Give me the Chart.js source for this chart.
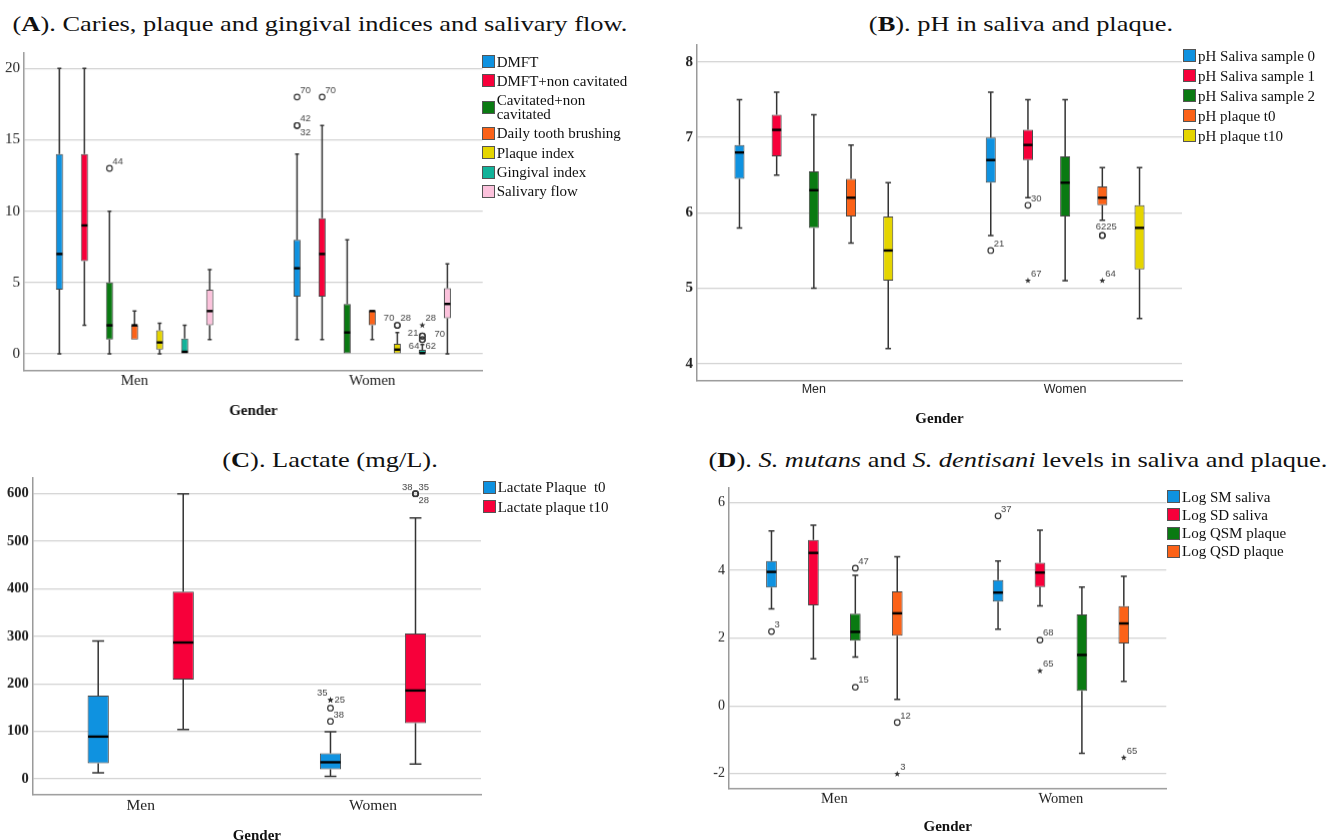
<!DOCTYPE html>
<html>
<head>
<meta charset="utf-8">
<script src="https://cdn.jsdelivr.net/npm/chart.js@4.4.1/dist/chart.umd.min.js"></script>
<style>
  body { margin: 0; width: 1341px; height: 840px; position: relative; overflow: hidden; background: #fff; font-family: "Liberation Serif", serif; color: #111; }
  .ttl { position: absolute; font-size: 22px; line-height: 22px; white-space: nowrap; transform: translateX(-50%) scaleX(1.2); }
  .panel { position: absolute; }
  .lgd { position: absolute; font-size: 15px; line-height: 14px; color: #111; }
  .lgd div { display: flex; align-items: center; }
  .lgd i { flex: none; width: 13px; height: 13px; border: 1px solid #555; box-sizing: border-box; margin-right: 2px; }
  .lgd span { white-space: pre-wrap; }
</style>
</head>
<body>
<div class="ttl" style="left:320px;top:13.3px">(<b>A</b>). Caries, plaque and gingival indices and salivary flow.</div>
<div class="ttl" style="left:1021px;top:13.3px">(<b>B</b>). pH in saliva and plaque.</div>
<div class="ttl" style="left:330px;top:448.6px">(<b>C</b>). Lactate (mg/L).</div>
<div class="ttl" style="left:1018px;top:448.6px">(<b>D</b>). <i>S. mutans</i> and <i>S. dentisani</i> levels in saliva and plaque.</div>
<script>
const genders = ['Men', 'Women'];

// every box: [lower whisker, Q1, median, Q3, upper whisker], one row for Men, one for Women
// outliers: [series, gender, value, case label, 'o' outlier / '*' extreme]

// (A) caries, plaque, gingival indices, salivary flow
const seriesA = ['DMFT', 'DMFT+non cavitated', 'Cavitated+non cavitated', 'Daily tooth brushing', 'Plaque index', 'Gingival index', 'Salivary flow'];
const aDMFT     = [[0, 4.5, 7, 14, 20], [1, 4, 6, 8, 14]];
const aDMFTnc   = [[2, 6.5, 9, 14, 20], [1, 4, 7, 9.5, 16]];
const aCavNc    = [[0, 1, 2, 5, 10], [0, 0, 1.5, 3.5, 8]];
const aBrushing = [[1, 1, 2, 2, 3], [1, 2, 3, 3, 3]];
const aPlaque   = [[0, 0.3, 0.8, 1.65, 2.15], [0, 0, 0.3, 0.7, 1.5]];
const aGingival = [[0, 0, 0.15, 1.07, 2], [0, 0, 0.05, 0.28, 0.65]];
const aFlow     = [[1, 2, 3, 4.5, 5.9], [0, 2.5, 3.5, 4.6, 6.3]];
const aOutliers = [
  [2, 0, 13, '44', 'o'],
  [0, 1, 18, '70', 'o'], [0, 1, 16, '42', 'o'], [0, 1, 16, '32', 'o'],
  [1, 1, 18, '70', 'o'],
  [4, 1, 2, '70', 'o'], [4, 1, 2, '28', 'o'],
  [5, 1, 2, '28', '*'], [5, 1, 1.25, '21', 'o'], [5, 1, 1.25, '70', 'o'], [5, 1, 1.0, '64', 'o'], [5, 1, 1.0, '62', 'o']
];

// (B) pH
const seriesB = ['pH Saliva sample 0', 'pH Saliva sample 1', 'pH Saliva sample 2', 'pH plaque t0', 'pH plaque t10'];
const bSaliva0  = [[5.8, 6.45, 6.8, 6.9, 7.5], [5.7, 6.4, 6.7, 7.0, 7.6]];
const bSaliva1  = [[6.5, 6.75, 7.1, 7.3, 7.6], [6.2, 6.7, 6.9, 7.1, 7.5]];
const bSaliva2  = [[5.0, 5.8, 6.3, 6.55, 7.3], [5.1, 5.95, 6.4, 6.75, 7.5]];
const bPlaque0  = [[5.6, 5.95, 6.2, 6.45, 6.9], [5.9, 6.1, 6.2, 6.35, 6.6]];
const bPlaque10 = [[4.2, 5.1, 5.5, 5.95, 6.4], [4.6, 5.25, 5.8, 6.1, 6.6]];
const bOutliers = [
  [0, 1, 5.5, '21', 'o'],
  [1, 1, 6.1, '30', 'o'], [1, 1, 5.1, '67', '*'],
  [3, 1, 5.7, '62', 'o'], [3, 1, 5.7, '25', 'o'], [3, 1, 5.1, '64', '*']
];

// (C) lactate
const seriesC = ['Lactate Plaque  t0', 'Lactate plaque t10'];
const cPlaque0  = [[13, 33, 89, 175, 290], [5.6, 20, 35, 54, 99]];
const cPlaque10 = [[104, 209, 287, 394, 600], [31, 117, 186, 306, 549]];
const cOutliers = [
  [0, 1, 166, '35', '*'], [0, 1, 166, '25', '*'], [0, 1, 149, '38', 'o'], [0, 1, 121, '', 'o'],
  [1, 1, 600, '38', 'o'], [1, 1, 600, '35', 'o'], [1, 1, 600, '28', 'o']
];

// (D) S. mutans / S. dentisani
const seriesD = ['Log SM saliva', 'Log SD saliva', 'Log QSM plaque', 'Log QSD plaque'];
const dSMsaliva  = [[2.86, 3.49, 3.95, 4.27, 5.16], [2.26, 3.07, 3.34, 3.71, 4.27]];
const dSDsaliva  = [[1.39, 2.96, 4.51, 4.89, 5.33], [2.95, 3.50, 3.93, 4.22, 5.18]];
const dQSMplaque = [[1.44, 1.92, 2.18, 2.72, 3.85], [-1.40, 0.44, 1.50, 2.70, 3.50]];
const dQSDplaque = [[0.19, 2.07, 2.73, 3.38, 4.40], [0.72, 1.84, 2.43, 2.94, 3.82]];
const dOutliers = [
  [0, 0, 2.19, '3', 'o'], [2, 0, 4.06, '47', 'o'], [2, 0, 0.55, '15', 'o'],
  [3, 0, -0.49, '12', 'o'], [3, 0, -2.01, '3', '*'],
  [0, 1, 5.6, '37', 'o'], [1, 1, 1.94, '68', 'o'], [1, 1, 1.03, '65', '*'], [3, 1, -1.53, '65', '*']
];

// colours and where the case numbers sit
const palette = ['#0f92e0', '#f7003a', '#0a7a12', '#fb6218', '#e5d500', '#12b39a', '#fcc2dc'];
const aLabelAt = ['ur', 'ur', 'ur', 'lr', 'ur', 'ul', 'ur', 'ur', 'l', 'R', 'll', 'lr'];
const bLabelAt = ['ur', 'ur', 'ur', 'tl', 'tr', 'ur'];
const cLabelAt = ['ul', 'r', 'lr', 'ur', 'ul', 'ur', 'lr'];

function labelPos(code, x, y) {
  switch (code) {
    case 'ul': return [x - 3, y - 2, 'right', 'bottom'];
    case 'lr': return [x + 3, y + 2, 'left', 'top'];
    case 'll': return [x - 3, y + 2, 'right', 'top'];
    case 'l':  return [x - 4, y - 3, 'right', 'middle'];
    case 'r':  return [x + 4, y, 'left', 'middle'];
    case 'R':  return [x + 12, y - 2, 'left', 'middle'];
    case 'tl': return [x + 4, y - 4, 'right', 'bottom'];
    case 'tr': return [x + 4, y - 4, 'left', 'bottom'];
    default:   return [x + 3, y - 2, 'left', 'bottom'];
  }
}

function star(ctx, x, y) {
  ctx.beginPath();
  for (let k = 0; k < 10; k++) {
    const r = k % 2 ? 1.3 : 3.2, a = -Math.PI / 2 + k * Math.PI / 5;
    ctx.lineTo(x + r * Math.cos(a), y + r * Math.sin(a));
  }
  ctx.closePath();
  ctx.fill();
}

function whiskers(cfg) {
  return {
    id: 'whiskers',
    afterDatasetsDraw(chart) {
      const ctx = chart.ctx, ys = chart.scales.y;
      const py = v => ys.getPixelForValue(v);
      ctx.save();
      chart.data.datasets.forEach((ds, i) => {
        chart.getDatasetMeta(i).data.forEach((bar, g) => {
          const [lo, q1, med, q3, hi] = ds.stats[g];
          const x = bar.x, w = bar.width, cap = w * 0.28;
          ctx.strokeStyle = '#333';
          ctx.lineWidth = 1.5;
          ctx.beginPath();
          if (hi > q3) {
            ctx.moveTo(x, py(q3)); ctx.lineTo(x, py(hi));
            ctx.moveTo(x - cap, py(hi)); ctx.lineTo(x + cap, py(hi));
          }
          if (lo < q1) {
            ctx.moveTo(x, py(q1)); ctx.lineTo(x, py(lo));
            ctx.moveTo(x - cap, py(lo)); ctx.lineTo(x + cap, py(lo));
          }
          ctx.stroke();
          ctx.strokeStyle = '#000';
          ctx.lineWidth = 2.4;
          ctx.beginPath();
          ctx.moveTo(x - w / 2 + 0.5, py(med));
          ctx.lineTo(x + w / 2 - 0.5, py(med));
          ctx.stroke();
        });
      });
      ctx.font = '9.5px "Liberation Sans", Arial, sans-serif';
      cfg.outliers.forEach((o, k) => {
        const [s, g, v, lab, kind] = o;
        const bar = chart.getDatasetMeta(s).data[g];
        const x = bar.x, y = py(v);
        ctx.fillStyle = '#333';
        ctx.strokeStyle = '#333';
        ctx.lineWidth = 1.2;
        if (kind === '*') {
          star(ctx, x, y);
        } else {
          ctx.beginPath();
          ctx.arc(x, y, 2.8, 0, Math.PI * 2);
          ctx.stroke();
        }
        if (lab) {
          const [tx, ty, al, bl] = labelPos(cfg.labelAt ? cfg.labelAt[k] : 'ur', x, y);
          ctx.fillStyle = '#444';
          ctx.textAlign = al;
          ctx.textBaseline = bl;
          ctx.fillText(lab, tx, ty);
        }
      });
      ctx.restore();
    }
  };
}

function addLegend(names, left, top, pitch, width) {
  const box = document.createElement('div');
  box.className = 'lgd';
  box.style.left = left + 'px';
  box.style.top = top + 'px';
  if (width) box.style.width = width + 'px';
  names.forEach((n, i) => {
    const row = document.createElement('div');
    row.style.padding = ((pitch - 14) / 2) + 'px 0';
    row.innerHTML = '<i style="background:' + palette[i] + '"></i><span>' + n + '</span>';
    box.appendChild(row);
  });
  document.body.appendChild(box);
}

function boxChart(cfg) {
  const padT = 12, padB = 2, padR = 2;
  const [l, t, r, b] = cfg.plot;
  const holder = document.createElement('div');
  holder.className = 'panel';
  holder.style.left = (l - cfg.yWidth) + 'px';
  holder.style.top = (t - padT) + 'px';
  holder.style.width = (r - l + cfg.yWidth + padR) + 'px';
  holder.style.height = (b - t + padT + cfg.xHeight + padB) + 'px';
  const canvas = document.createElement('canvas');
  holder.appendChild(canvas);
  document.body.appendChild(holder);

  new Chart(canvas, {
    type: 'bar',
    data: {
      datasets: cfg.series.map((name, i) => ({
        label: name,
        data: cfg.stats[i].map((s, g) => ({ x: g, y: [s[1], s[3]] })),
        stats: cfg.stats[i],
        backgroundColor: palette[i],
        borderColor: '#444',
        borderWidth: 1,
        borderSkipped: false,
        categoryPercentage: cfg.catPct,
        barPercentage: cfg.barPct
      }))
    },
    options: {
      responsive: true,
      maintainAspectRatio: false,
      animation: false,
      layout: { padding: { top: padT, bottom: padB, left: 0, right: padR } },
      plugins: { legend: { display: false }, tooltip: { enabled: false } },
      scales: {
        x: {
          type: 'linear',
          min: -0.465,
          max: 1.465,
          offset: false,
          afterBuildTicks: s => { s.ticks = genders.map((_, i) => ({ value: i })); },
          afterFit: s => { s.height = cfg.xHeight; },
          grid: { display: false, drawTicks: false, offset: false },
          border: { display: true, color: '#9a9a9a', width: 1.5 },
          ticks: { padding: 2, color: '#222', font: cfg.xFont, autoSkip: false, maxRotation: 0, callback: v => genders[v] },
          title: { display: true, text: 'Gender', color: '#111', padding: 0,
                   font: { family: 'Liberation Serif', size: 15, weight: 'bold' } }
        },
        y: {
          min: cfg.yMin,
          max: cfg.yMax,
          afterFit: s => { s.width = cfg.yWidth; },
          grid: { color: '#d2d2d2', lineWidth: 1.3, drawTicks: false },
          border: { display: true, color: '#9a9a9a', width: 1.5 },
          ticks: { stepSize: cfg.step, includeBounds: false, padding: 4, color: '#222', font: cfg.yFont }
        }
      }
    },
    plugins: [whiskers(cfg)]
  });
}

const serif = (size, weight) => ({ family: 'Liberation Serif', size: size, weight: weight || 'normal' });

boxChart({
  plot: [24, 52.3, 481.7, 369.7], yWidth: 24, xHeight: 49.3,
  series: seriesA, stats: [aDMFT, aDMFTnc, aCavNc, aBrushing, aPlaque, aGingival, aFlow],
  outliers: aOutliers, labelAt: aLabelAt,
  yMin: -1.15, yMax: 21.08, step: 5, catPct: 0.738, barPct: 0.28,
  yFont: serif(15), xFont: serif(15)
});
addLegend(seriesA, 481.7, 52, 19.3, 160);

boxChart({
  plot: [696.7, 44, 1181.7, 379.3], yWidth: 36, xHeight: 47.4,
  series: seriesB, stats: [bSaliva0, bSaliva1, bSaliva2, bPlaque0, bPlaque10],
  outliers: bOutliers, labelAt: bLabelAt,
  yMin: 3.78, yMax: 8.225, step: 1, catPct: 0.74, barPct: 0.27,
  yFont: serif(15, 'bold'), xFont: { family: 'Liberation Sans', size: 12.5 }
});
addLegend(seriesB, 1183, 45.7, 20);

boxChart({
  plot: [32.7, 477.3, 481, 793.7], yWidth: 32.7, xHeight: 50.3,
  series: seriesC, stats: [cPlaque0, cPlaque10],
  outliers: cOutliers, labelAt: cLabelAt,
  yMin: -32.4, yMax: 633.7, step: 100, catPct: 0.732, barPct: 0.25,
  yFont: serif(14.5, 'bold'), xFont: serif(15.5)
});
addLegend(seriesC, 482.7, 477.6, 19.3);

boxChart({
  plot: [728.7, 487.3, 1166, 788], yWidth: 40, xHeight: 47.7,
  series: seriesD, stats: [dSMsaliva, dSDsaliva, dQSMplaque, dQSDplaque],
  outliers: dOutliers,
  yMin: -2.44, yMax: 6.44, step: 2, catPct: 0.74, barPct: 0.255,
  yFont: serif(14), xFont: serif(14.5)
});
addLegend(seriesD, 1167, 487.5, 18.3);
</script>
</body>
</html>
